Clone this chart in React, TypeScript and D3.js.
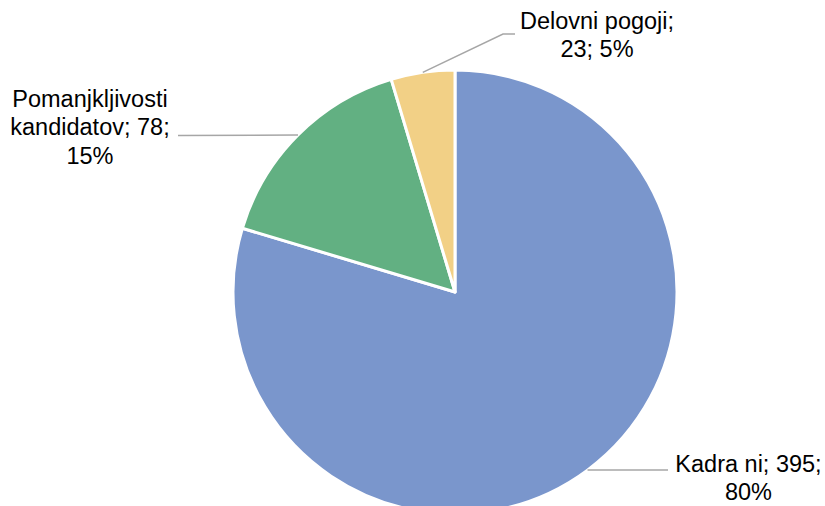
import React from "react";
import * as d3 from "d3";

const categories = ["Kadra ni", "Pomanjkljivosti kandidatov", "Delovni pogoji"];
const values = [395, 78, 23];
const percentLabels = ["80%", "15%", "5%"];
const colors = ["#7A96CC", "#62B082", "#F2D086"];

const W = 825;
const H = 506;
const cx = 455;
const cy = 292;
const R = 222;
const FONT = 23.5;
const LH = 28.4;

type LabelSpec = {
  lines: string[];
  x: number;
  y: number; // first baseline
  path: (p: [number, number]) => [number, number][];
};

const labelSpecs: LabelSpec[] = [
  {
    lines: ["Kadra ni; 395;", percentLabels[0]],
    x: 748.5,
    y: 471.5,
    path: (p) => [p, [668, p[1]]],
  },
  {
    lines: ["Pomanjkljivosti", "kandidatov; 78;", percentLabels[1]],
    x: 90,
    y: 107,
    path: (p) => [p, [178, 135.5]],
  },
  {
    lines: ["Delovni pogoji;", "23; " + percentLabels[2]],
    x: 597,
    y: 29,
    path: (p) => [p, [503, 34], [515, 34]],
  },
];

export default function App() {
  const pie = d3
    .pie<number>()
    .sort(null)
    .value((d) => d)(values);
  const arc = d3.arc<d3.PieArcDatum<number>>().innerRadius(0).outerRadius(R);

  return (
    <svg
      width={W}
      height={H}
      style={{ position: "absolute", left: 0, top: 0, background: "#fff" }}
      fontFamily="'Liberation Sans', Arial, sans-serif"
    >
      <g transform={`translate(${cx},${cy})`}>
        {pie.map((d, i) => (
          <path
            key={categories[i]}
            d={arc(d) || ""}
            fill={colors[i]}
            stroke="#fff"
            strokeWidth={3}
            strokeLinejoin="round"
          />
        ))}
      </g>
      {pie.map((d, i) => {
        const mid = (d.startAngle + d.endAngle) / 2;
        const p: [number, number] = [cx + R * Math.sin(mid), cy - R * Math.cos(mid)];
        const spec = labelSpecs[i];
        const pts = spec.path(p);
        return (
          <g key={"l" + i}>
            <polyline
              points={pts.map((q) => q.join(",")).join(" ")}
              fill="none"
              stroke="#A6A6A6"
              strokeWidth={1.5}
            />
            <text textAnchor="middle" fontSize={FONT} fill="#000">
              {spec.lines.map((ln, j) => (
                <tspan key={j} x={spec.x} y={spec.y + j * LH}>
                  {ln}
                </tspan>
              ))}
            </text>
          </g>
        );
      })}
    </svg>
  );
}
